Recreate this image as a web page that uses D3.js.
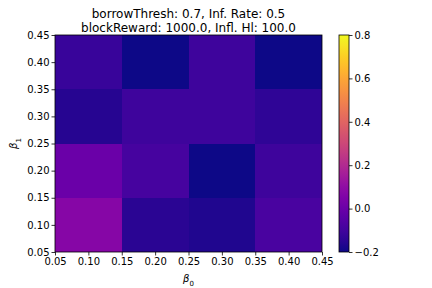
<!DOCTYPE html>
<html>
<head>
<meta charset="utf-8">
<script src="https://cdn.jsdelivr.net/npm/d3@7"></script>
<style>
  body { margin: 0; background: #fff; }
  text { font-family: "DejaVu Sans", sans-serif; fill: #000; }
</style>
</head>
<body>
<svg id="chart" width="432" height="288"></svg>
<script>
// grid centers
var beta0 = [0.1, 0.2, 0.3, 0.4];
var beta1 = [0.1, 0.2, 0.3, 0.4];
// values[row for beta1][col for beta0]
var values = [
  [ 0.07, -0.15, -0.17, -0.08],
  [ 0.00, -0.09, -0.20, -0.11],
  [-0.16, -0.11, -0.11, -0.14],
  [-0.12, -0.20, -0.11, -0.20]
];
var tickVals = [0.05, 0.10, 0.15, 0.20, 0.25, 0.30, 0.35, 0.40, 0.45];
var cbTicks = [-0.2, 0.0, 0.2, 0.4, 0.6, 0.8];
var titleLines = ["borrowThresh: 0.7, Inf. Rate: 0.5", "blockReward: 1000.0, Infl. Hl: 100.0"];

var svg = d3.select('#chart');
var axL = 55, axR = 322, axT = 35, axB = 252;

var x = d3.scaleLinear().domain([0.05, 0.45]).range([axL, axR]);
var y = d3.scaleLinear().domain([0.05, 0.45]).range([axB, axT]);
var color = d3.scaleSequential(d3.interpolatePlasma).domain([-0.2, 0.8]);
var fmt = d3.format('.2f');
var half = 0.05;

// cells
values.forEach(function(row, i) {
  row.forEach(function(v, j) {
    svg.append('rect')
      .attr('x', x(beta0[j] - half))
      .attr('y', y(beta1[i] + half))
      .attr('width', x(beta0[j] + half) - x(beta0[j] - half))
      .attr('height', y(beta1[i] - half) - y(beta1[i] + half))
      .attr('fill', color(v))
      .attr('shape-rendering', 'crispEdges');
  });
});

var xAxis = svg.append('g').attr('transform', 'translate(0,' + axB + ')')
  .call(d3.axisBottom(x).tickValues(tickVals).tickFormat(fmt).tickSize(3.5).tickPadding(2));
var yAxis = svg.append('g').attr('transform', 'translate(' + axL + ',0)')
  .call(d3.axisLeft(y).tickValues(tickVals).tickFormat(fmt).tickSize(3.5).tickPadding(2));
[xAxis, yAxis].forEach(function(g) {
  g.select('.domain').remove();
  g.selectAll('text').style('font-size', '10px').style('font-family', '"DejaVu Sans", sans-serif');
  g.selectAll('line').attr('stroke', '#000').attr('stroke-width', 0.8);
});

// frame
svg.append('rect').attr('x', axL).attr('y', axT)
  .attr('width', axR - axL).attr('height', axB - axT)
  .attr('fill', 'none').attr('stroke', '#000').attr('stroke-width', 0.8);

// axis labels
svg.append('text').attr('x', (axL + axR) / 2).attr('y', 282)
  .attr('text-anchor', 'middle').style('font-size', '10px').style('font-style', 'italic')
  .text('β').append('tspan').attr('baseline-shift', 'sub').style('font-size', '7px').style('font-style', 'normal').text('0');
svg.append('text').attr('transform', 'translate(17,' + ((axT + axB) / 2) + ') rotate(-90)')
  .attr('text-anchor', 'middle').style('font-size', '10px').style('font-style', 'italic')
  .text('β').append('tspan').attr('baseline-shift', 'sub').style('font-size', '7px').style('font-style', 'normal').text('1');

// title
titleLines.forEach(function(t, i) {
  svg.append('text').attr('x', (axL + axR) / 2).attr('y', 17.5 + i * 14.5)
    .attr('text-anchor', 'middle').style('font-size', '12px').text(t);
});

// colorbar
var cbLeft = 339, cbW = 10;
var cy = d3.scaleLinear().domain([-0.2, 0.8]).range([axB, axT]);
var defs = svg.append('defs');
var grad = defs.append('linearGradient').attr('id', 'cbgrad')
  .attr('x1', 0).attr('y1', 1).attr('x2', 0).attr('y2', 0);
d3.range(0, 1.0001, 0.05).forEach(function(t) {
  grad.append('stop').attr('offset', t).attr('stop-color', d3.interpolatePlasma(t));
});
svg.append('rect').attr('x', cbLeft).attr('y', axT).attr('width', cbW).attr('height', axB - axT)
  .attr('fill', 'url(#cbgrad)').attr('stroke', '#000').attr('stroke-width', 0.8);
var cbAxis = svg.append('g').attr('transform', 'translate(' + (cbLeft + cbW) + ',0)')
  .call(d3.axisRight(cy).tickValues(cbTicks).tickFormat(function(d) { return d3.format('.1f')(d).replace('-', '−'); }).tickSize(3.5).tickPadding(2));
cbAxis.select('.domain').remove();
cbAxis.selectAll('text').style('font-size', '10px').style('font-family', '"DejaVu Sans", sans-serif');
cbAxis.selectAll('line').attr('stroke', '#000').attr('stroke-width', 0.8);
</script>
</body>
</html>
